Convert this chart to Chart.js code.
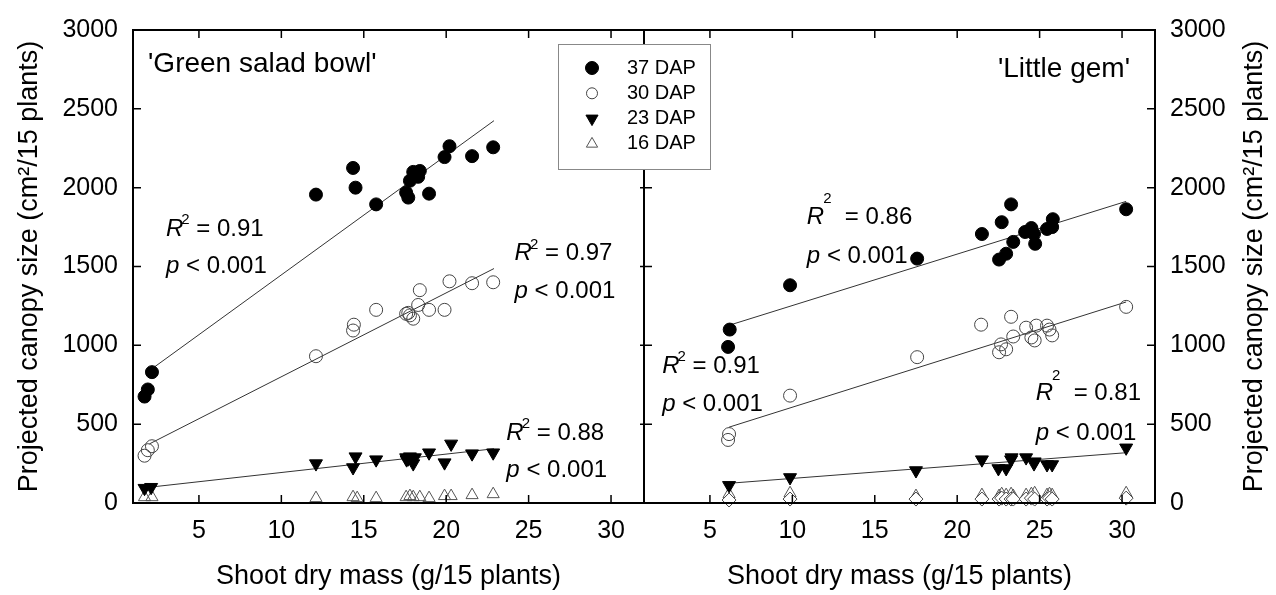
<!DOCTYPE html>
<html>
<head>
<meta charset="utf-8">
<script src="https://cdn.jsdelivr.net/npm/chart.js@4.4.0/dist/chart.umd.min.js"></script>
<style>
  html, body { margin: 0; padding: 0; background: #fff; }
  #wrap { position: relative; width: 1276px; height: 595px; }
</style>
</head>
<body>
<div id="wrap"><canvas id="myChart" width="1276" height="595"></canvas></div>
<script>
// axis ticks
var xTicks = [5, 10, 15, 20, 25, 30];
var yTicks = [0, 500, 1000, 1500, 2000, 2500, 3000];
var seriesNames = ['37 DAP', '30 DAP', '23 DAP', '16 DAP'];
var panelNames = ["'Green salad bowl'", "'Little gem'"];
var xTitle = 'Shoot dry mass (g/15 plants)';
var yTitle = 'Projected canopy size (cm\u00B2/15 plants)';

// 'Green salad bowl' (left panel), [shoot mass, canopy size]
var gsb37 = [[1.7, 675], [1.9, 720], [2.15, 830], [12.1, 1956], [14.35, 2125], [14.5, 2000], [15.75, 1894],
    [17.57, 1969], [17.7, 1937], [17.8, 2044], [18.0, 2100], [18.4, 2106], [18.3, 2069], [18.96, 1962],
    [19.9, 2194], [20.2, 2263], [21.57, 2200], [22.85, 2256]];
var gsb30 = [[1.7, 300], [1.9, 335], [2.15, 360], [12.1, 931], [14.4, 1131], [14.35, 1094], [15.75, 1225],
    [17.57, 1200], [17.7, 1206], [18.0, 1169], [17.8, 1190], [18.3, 1256], [18.4, 1350], [18.96, 1225],
    [19.9, 1225], [20.2, 1406], [21.57, 1394], [22.85, 1400]];
var gsb23 = [[1.7, 94], [2.1, 100], [12.1, 250], [14.5, 294], [14.35, 225], [15.75, 275], [17.57, 288],
    [17.6, 275], [17.7, 281], [17.8, 294], [18.0, 250], [18.1, 288], [18.96, 319], [19.9, 256], [20.3, 375],
    [21.57, 313], [22.85, 319]];
var gsb16 = [[1.7, 37], [2.15, 37], [12.1, 31], [14.35, 37], [14.6, 31], [15.75, 31], [17.57, 37], [17.8, 44],
    [18.0, 37], [18.4, 37], [18.96, 31], [19.9, 44], [20.3, 44], [21.57, 50], [22.85, 56]];
var gsbFit37 = [[2.0, 840], [22.9, 2425]];
var gsbFit30 = [[2.0, 375], [22.9, 1487]];
var gsbFit23 = [[2.0, 100], [22.9, 344]];
var gsbR2 = ['0.91', '0.97', '0.88'];

// 'Little gem' (right panel)
var lg37 = [[6.1, 990], [6.2, 1100], [9.86, 1381], [17.57, 1550], [21.5, 1706], [22.54, 1544], [22.97, 1581],
    [22.7, 1781], [23.27, 1894], [23.4, 1656], [24.12, 1719], [24.5, 1744], [24.73, 1644], [24.66, 1706],
    [25.45, 1738], [25.76, 1750], [25.8, 1800], [30.25, 1863]];
var lg30 = [[6.1, 400], [6.16, 437], [9.86, 681], [17.57, 925], [21.45, 1131], [22.54, 956], [22.66, 1006],
    [22.97, 975], [23.27, 1181], [23.4, 1056], [24.18, 1112], [24.5, 1050], [24.7, 1031], [24.8, 1125],
    [25.45, 1125], [25.6, 1100], [25.76, 1063], [30.25, 1244]];
var lg23 = [[6.16, 112], [9.86, 162], [17.5, 206], [21.5, 275], [22.5, 219], [22.97, 219], [23.3, 288],
    [23.27, 275], [24.18, 288], [24.66, 250], [24.7, 262], [25.45, 244], [25.76, 244], [30.25, 350]];
var lg16 = [[6.16, 56], [9.86, 62], [17.5, 44], [21.5, 50], [22.54, 44], [22.7, 56], [22.97, 50], [23.27, 56],
    [23.4, 44], [24.18, 50], [24.5, 56], [24.7, 62], [25.45, 50], [25.6, 56], [25.76, 50], [30.25, 62]];
var lgOpen = [[6.16, 19], [9.86, 25], [17.5, 25], [21.5, 25], [22.54, 25], [22.7, 31], [22.97, 25], [23.27, 25],
    [23.4, 25], [24.18, 25], [24.5, 31], [24.7, 25], [25.45, 25], [25.6, 31], [25.76, 25], [30.25, 31]];
var lgFit37 = [[6.28, 1131], [30.25, 1913]];
var lgFit30 = [[6.16, 481], [30.25, 1275]];
var lgFit23 = [[6.16, 125], [30.25, 319]];
var lgR2 = ['0.91', '0.86', '0.81'];

var FONT = '"Liberation Sans", Arial, Helvetica, sans-serif';

var styles = [
    {pointStyle: 'circle', radius: 6.5, rot: 0, bg: '#000', border: '#000'},
    {pointStyle: 'circle', radius: 6.5, rot: 0, bg: 'rgba(0,0,0,0)', border: '#444'},
    {pointStyle: 'triangle', radius: 7.5, rot: 180, bg: '#000', border: '#000'},
    {pointStyle: 'triangle', radius: 7, rot: 0, bg: 'rgba(0,0,0,0)', border: '#555'}
];
var diamond = {pointStyle: 'rectRot', radius: 7, rot: 0, bg: '#fff', border: '#444'};

function pts(arr) {
    return arr.map(function (p) { return {x: p[0], y: p[1]}; });
}

function scatter(label, arr, xid, st, order) {
    return {
        label: label, data: pts(arr), xAxisID: xid, yAxisID: 'y',
        pointStyle: st.pointStyle, pointRotation: st.rot, pointRadius: st.radius,
        pointBackgroundColor: st.bg, pointBorderColor: st.border, pointBorderWidth: 1,
        backgroundColor: st.bg, borderColor: st.border,
        showLine: false, clip: false, order: order
    };
}

function fit(arr, xid) {
    return {
        label: 'fit', data: pts(arr), xAxisID: xid, yAxisID: 'y', showLine: true,
        pointRadius: 0, borderColor: '#333', borderWidth: 1, fill: false, order: 20
    };
}

var datasets = [
    scatter(seriesNames[0], gsb37, 'x1', styles[0], 1),
    scatter(seriesNames[1], gsb30, 'x1', styles[1], 2),
    scatter(seriesNames[2], gsb23, 'x1', styles[2], 3),
    scatter(seriesNames[3], gsb16, 'x1', styles[3], 5),
    fit(gsbFit37, 'x1'), fit(gsbFit30, 'x1'), fit(gsbFit23, 'x1'),
    scatter(seriesNames[0], lg37, 'x2', styles[0], 1),
    scatter(seriesNames[1], lg30, 'x2', styles[1], 2),
    scatter(seriesNames[2], lg23, 'x2', styles[2], 3),
    scatter(seriesNames[3], lg16, 'x2', styles[3], 5),
    scatter('', lgOpen, 'x2', diamond, 4),
    fit(lgFit37, 'x2'), fit(lgFit30, 'x2'), fit(lgFit23, 'x2')
];

// where the R2 / p texts sit, in data units of each panel
var statPos = [
    {x: 'x1', r2: gsbR2[0], px: 3.0, py: 1737, pp: 1500, gap: false},
    {x: 'x1', r2: gsbR2[1], px: 24.15, py: 1581, pp: 1344, gap: false},
    {x: 'x1', r2: gsbR2[2], px: 23.65, py: 444, pp: 206, gap: false},
    {x: 'x2', r2: lgR2[0], px: 2.1, py: 869, pp: 625, gap: false},
    {x: 'x2', r2: lgR2[1], px: 10.88, py: 1812, pp: 1562, gap: true},
    {x: 'x2', r2: lgR2[2], px: 24.76, py: 694, pp: 444, gap: true}
];

function drawStat(ctx, x, y, yp, r2, gap) {
    ctx.fillStyle = '#000';
    ctx.textBaseline = 'middle';
    ctx.textAlign = 'left';
    ctx.font = 'italic 24px ' + FONT;
    ctx.fillText('R', x, y);
    var w = ctx.measureText('R').width;
    ctx.font = '15px ' + FONT;
    var sx = x + w + (gap ? -1 : -2);
    ctx.fillText('2', sx, y - (gap ? 18 : 9));
    var w2 = ctx.measureText('2').width;
    ctx.font = '24px ' + FONT;
    ctx.fillText((gap ? '  = ' : ' = ') + r2, sx + w2, y);
    ctx.font = 'italic 24px ' + FONT;
    ctx.fillText('p', x, yp);
    var wp = ctx.measureText('p').width;
    ctx.font = '24px ' + FONT;
    ctx.fillText(' < 0.001', x + wp, yp);
}

function marker(ctx, st, x, y, r) {
    ctx.fillStyle = st.bg;
    ctx.strokeStyle = st.border;
    ctx.lineWidth = 1;
    Chart.helpers.drawPoint(ctx, {pointStyle: st.pointStyle, rotation: st.rot, radius: r, borderWidth: 1}, x, y);
}

var frame = {
    id: 'frame',
    afterDatasetsDraw: function (chart) {
        var ctx = chart.ctx, a = chart.chartArea, s = chart.scales;
        var mid = s.x1.right;
        ctx.save();
        ctx.strokeStyle = '#000';
        ctx.lineWidth = 2;
        ctx.strokeRect(a.left, a.top, a.right - a.left, a.bottom - a.top);
        ctx.beginPath();
        ctx.moveTo(mid, a.top);
        ctx.lineTo(mid, a.bottom);
        ctx.stroke();

        // inward tick marks
        ctx.lineWidth = 1.5;
        ctx.beginPath();
        ['x1', 'x2'].forEach(function (id) {
            xTicks.forEach(function (v) {
                var px = s[id].getPixelForValue(v);
                ctx.moveTo(px, a.bottom); ctx.lineTo(px, a.bottom - 8);
                ctx.moveTo(px, a.top); ctx.lineTo(px, a.top + 8);
            });
        });
        yTicks.forEach(function (v) {
            var py = s.y.getPixelForValue(v);
            ctx.moveTo(a.left, py); ctx.lineTo(a.left + 8, py);
            ctx.moveTo(a.right, py); ctx.lineTo(a.right - 8, py);
            ctx.moveTo(mid - 4, py); ctx.lineTo(mid + 8, py);
        });
        ctx.stroke();

        // panel names
        ctx.fillStyle = '#000';
        ctx.font = '28px ' + FONT;
        ctx.textBaseline = 'middle';
        ctx.textAlign = 'left';
        ctx.fillText(panelNames[0], a.left + 15, a.top + 34);
        ctx.textAlign = 'right';
        ctx.fillText(panelNames[1], a.right - 25, a.top + 39);

        // stats
        statPos.forEach(function (t) {
            drawStat(ctx, s[t.x].getPixelForValue(t.px), s.y.getPixelForValue(t.py),
                s.y.getPixelForValue(t.pp), t.r2, t.gap);
        });

        // legend box
        var lx = mid - 86, ly = a.top + 14;
        ctx.fillStyle = '#fff';
        ctx.fillRect(lx, ly, 152, 125);
        ctx.strokeStyle = '#888';
        ctx.lineWidth = 1;
        ctx.strokeRect(lx + 0.5, ly + 0.5, 152, 125);
        var radii = [6.5, 5.5, 7, 6.5];
        seriesNames.forEach(function (name, i) {
            var ry = ly + 24 + i * 25.3;
            marker(ctx, styles[i], lx + 34, ry, radii[i]);
            ctx.fillStyle = '#000';
            ctx.font = '20px ' + FONT;
            ctx.textAlign = 'left';
            ctx.textBaseline = 'middle';
            ctx.fillText(name, lx + 69, ry);
        });

        // right y title, reading bottom to top
        ctx.save();
        ctx.translate(1255, (a.top + a.bottom) / 2);
        ctx.rotate(-Math.PI / 2);
        ctx.fillStyle = '#000';
        ctx.font = '27px ' + FONT;
        ctx.textAlign = 'center';
        ctx.textBaseline = 'middle';
        ctx.fillText(yTitle, 0, 0);
        ctx.restore();
        ctx.restore();
    }
};

function plain(v) { return String(v); }

function xAxis() {
    return {
        type: 'linear', position: 'bottom', stack: 'panels', stackWeight: 1,
        min: 1, max: 32,
        grid: {display: false, drawTicks: false, tickLength: 0},
        border: {display: false},
        ticks: {color: '#000', padding: 13, font: {family: FONT, size: 25}, maxRotation: 0, minRotation: 0,
            autoSkip: false, callback: plain},
        title: {display: true, text: xTitle, color: '#000', font: {family: FONT, size: 27}, padding: {top: 0, bottom: 2}},
        afterBuildTicks: function (scale) { scale.ticks = xTicks.map(function (v) { return {value: v}; }); },
        afterFit: function (scale) { scale.height = 92; }
    };
}

function yAxis(pos, width, withTitle) {
    return {
        position: pos, min: 0, max: 3000,
        grid: {display: false, drawTicks: false, tickLength: 0},
        border: {display: false},
        ticks: {color: '#000', padding: 15, font: {family: FONT, size: 25}, autoSkip: false, callback: plain},
        title: {display: withTitle, text: yTitle, color: '#000', font: {family: FONT, size: 27}, padding: {top: 13, bottom: 0}},
        afterBuildTicks: function (scale) { scale.ticks = yTicks.map(function (v) { return {value: v}; }); },
        afterFit: function (scale) { scale.width = width; }
    };
}

var ctx = document.getElementById('myChart');
var myChart = new Chart(ctx, {
    type: 'scatter',
    data: {datasets: datasets},
    options: {
        responsive: false,
        animation: false,
        events: [],
        layout: {padding: {top: 23, left: 0, right: 0, bottom: 0}},
        plugins: {legend: {display: false}, tooltip: {enabled: false}},
        scales: {
            x1: xAxis(),
            x2: xAxis(),
            y: yAxis('left', 133, true),
            yR: yAxis('right', 121, false)
        }
    },
    plugins: [frame]
});
</script>
</body>
</html>
